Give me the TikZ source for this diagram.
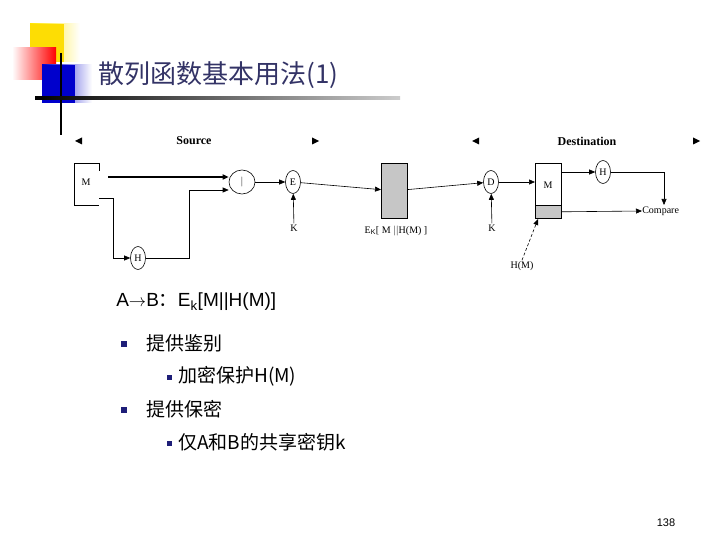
\documentclass[tikz,border=0pt]{standalone}
\usepackage{fontspec}
\setmainfont{Liberation Sans}
\newfontfamily\cjk{Noto Sans CJK SC}
\newfontfamily\tms{Liberation Serif}
\usetikzlibrary{positioning,arrows.meta,shapes.geometric}
\definecolor{titleblue}{RGB}{51,51,102}
\definecolor{bulletblue}{RGB}{30,30,120}

\begin{document}
\begin{tikzpicture}[x=1pt,y=-1pt,>={Triangle[length=6pt,width=5pt]},
                semithick]
        \tikzstyle{op}=[ellipse,draw,minimum width=15pt,minimum height=23pt,inner sep=0pt,font=\tms\fontsize{10}{10}\selectfont]
        \tikzstyle{lbl}=[font=\tms\fontsize{10}{10}\selectfont,inner sep=1pt]
        \tikzstyle{body}=[anchor=west,font=\cjk\fontsize{19}{19}\selectfont,text=black,inner sep=0pt]
        \tikzstyle{bullet}=[fill=bulletblue,minimum size=6pt,inner sep=0pt]

        \useasboundingbox (0,0) rectangle (720,540);
        \fill[white] (0,0) rectangle (720,540);

        % decoration
        \shade[left color=yellow!80!orange,right color=white] (30,24) rectangle (80,62);
        \fill[yellow!80!orange] (30,24) rectangle (64,62);
        \shade[left color=white,right color=red] (12,48) rectangle (56,80);
        \shade[left color=blue!80!black,right color=white] (42,65) rectangle (92,103);
        \fill[blue!80!black] (42,65) rectangle (75,103);
        \draw[line width=2pt] (61,53) -- (61,135);
        \shade[left color=black,right color=gray!40] (35,97) rectangle (400,99.5);
        \node[anchor=west,text=titleblue,font=\cjk\fontsize{26}{26}\selectfont,inner sep=0pt] (title) at (98,75) {散列函数基本用法(1)};

        % header
        \node[lbl,font=\tms\bfseries\fontsize{12}{12}\selectfont] (src) at (194,141) {Source};
        \node[lbl,font=\tms\bfseries\fontsize{12}{12}\selectfont] (dst) at (587,141) {Destination};
        \fill (75,141) -- (82,137.5) -- (82,144.5) -- cycle;
        \fill (319,141) -- (312,137.5) -- (312,144.5) -- cycle;
        \fill (472,141) -- (479,137.5) -- (479,144.5) -- cycle;
        \fill (700,141) -- (693,137.5) -- (693,144.5) -- cycle;

        % nodes
        \node[lbl] (M) at (86,182) {M};
        \node[op,minimum width=26pt,minimum height=24pt] (C) at (242,182) {$|$};
        \node[op] (H) at (138,258) {H};
        \node[op] (E) at (293,182) {E};
        \node[lbl] (K1) at (294,228) {K};
        \node[draw,fill=gray!45,minimum width=26pt,minimum height=55pt,inner sep=0pt,anchor=north west] (X) at (381,163) {};
        \node[lbl] (XL) at (396,231) {E$_{\mathrm{K}}$[ M $|$$|$H(M) ]};
        \node[op] (D) at (491,182) {D};
        \node[lbl] (K2) at (492,228) {K};
        \node[draw,minimum width=26pt,minimum height=42pt,inner sep=0pt,anchor=north west] (MB) at (535,163) {};
        \node[lbl] (M2) at (548,185) {M};
        \node[draw,fill=gray!45,minimum width=26pt,minimum height=13pt,inner sep=0pt,anchor=north west] (HB) at (535,205) {};
        \node[op] (H2) at (603,172) {H};
        \node[lbl,anchor=west,inner sep=0pt] (cmp) at (642,211) {Compare};
        \node[lbl] (HM) at (522,266) {H(M)};
        \coordinate (hmtip) at (538,219);

        % connectors
        \draw (99,163) -- (74,163) -- (74,205) -- (99,205);
        \draw (99,163) -- (99,171);
        \draw[->,line width=1.6pt] (108,177) -- (C.west |- 0,177);
        \draw[->] (99,198) -- (113,198) |- (H.west);
        \draw[->] (H.east) -- (189,258) -- (189,190) -- (C.west |- 0,190);
        \draw[->] (C) -- (E);
        \draw[->] (K1) -- (E);
        \draw[->] (E) -- (X);
        \draw[->] (X) -- (D);
        \draw[->] (K2) -- (D);
        \draw[->] (D) -- (MB.west |- D);
        \draw[->] (MB.east |- H2) -- (H2);
        \draw[->] (H2.east) -| (664,205);
        \draw[->] (HB.east) -- (cmp.west);
        \draw[densely dashed,->] (HM.north) -- (hmtip);

        % text
        \node[body,font=\fontsize{19}{19}\selectfont] (t0) at (116,302) {A$\rightarrow$B{\cjk：}E$_{\mathrm{k}}$[M||H(M)]};
        \node[bullet] (b1) at (124,344) {};
        \node[body] (t1) at (146,343) {提供鉴别};
        \node[bullet,minimum size=5pt] (b2) at (169,377) {};
        \node[body] (t2) at (178,376) {加密保护H(M)};
        \node[bullet] (b3) at (124,410) {};
        \node[body] (t3) at (146,409) {提供保密};
        \node[bullet,minimum size=5pt] (b4) at (169,443) {};
        \node[body] (t4) at (178,442) {仅A和B的共享密钥k};
        \node[font=\fontsize{11}{11}\selectfont] (pg) at (666,523) {138};
\end{tikzpicture}
\end{document}
